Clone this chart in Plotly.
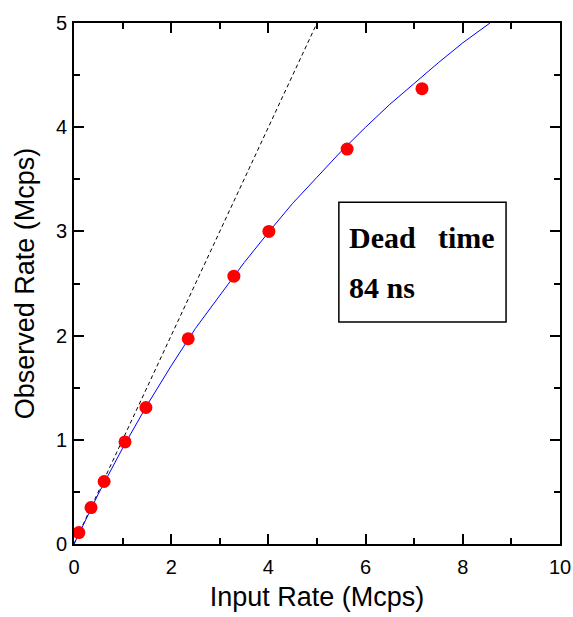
import plotly.graph_objects as go

# Measured data (Mcps)
input_rate = [0.10, 0.35, 0.62, 1.05, 1.48, 2.35, 3.29, 4.01, 5.62, 7.16]
observed_rate = [0.11, 0.35, 0.60, 0.98, 1.31, 1.97, 2.57, 3.00, 3.79, 4.37]

# Fitted dead-time curve
fit_x = [-0.1, 0, 0.5, 1, 1.5, 2, 2.5, 3, 3.5, 4, 4.5, 5, 5.5, 6, 6.5, 7, 7.5, 8, 8.56]
fit_y = [-0.1, 0, 0.48, 0.92, 1.33, 1.71, 2.07, 2.39, 2.70, 2.99, 3.27, 3.52, 3.77, 4.00, 4.22, 4.42, 4.62, 4.81, 5.0]

# Ideal (no dead time) line
ideal_x = [0, 5]
ideal_y = [0, 5]

x_ticks = [0, 2, 4, 6, 8, 10]
y_ticks = [0, 1, 2, 3, 4, 5]

SANS = "Liberation Sans, Arial, sans-serif"
SERIF = "Liberation Serif, Times New Roman, serif"

fig = go.Figure()
fig.add_trace(go.Scatter(x=ideal_x, y=ideal_y, mode="lines",
                         line=dict(color="black", width=1, dash="4px,3px"),
                         showlegend=False, hoverinfo="skip"))
fig.add_trace(go.Scatter(x=fit_x, y=fit_y, mode="lines",
                         line=dict(color="#0000FF", width=1),
                         showlegend=False))
fig.add_trace(go.Scatter(x=input_rate, y=observed_rate, mode="markers",
                         marker=dict(color="#FF0000", size=13, line=dict(width=0)),
                         cliponaxis=False, showlegend=False))

axis_common = dict(
    showline=True, linecolor="black", linewidth=2, mirror="ticks",
    ticks="inside", ticklen=10, tickwidth=2, tickcolor="black",
    showgrid=False, zeroline=False, automargin=False,
    tickfont=dict(family=SANS, size=20, color="black"),
    title_font=dict(family=SANS, size=27, color="black"),
)

fig.update_xaxes(range=[0, 10], tickvals=x_ticks, ticklabelstandoff=4,
                 minor=dict(dtick=1, tick0=0, ticks="inside", ticklen=6, tickwidth=2, tickcolor="black"),
                 title_text="Input Rate (Mcps)", title_standoff=10, **axis_common)
fig.update_yaxes(range=[0, 5], tickvals=y_ticks, ticklabelstandoff=1,
                 minor=dict(dtick=0.5, tick0=0, ticks="inside", ticklen=6, tickwidth=2, tickcolor="black"),
                 title_text="Observed Rate (Mcps)", title_standoff=13, **axis_common)

# Text box
fig.add_shape(type="rect", xref="x", yref="y", x0=5.45, x1=8.89, y0=2.13, y1=3.28,
              line=dict(color="black", width=1.5), fillcolor="white", layer="below")
font_box = dict(family=SERIF, size=30, color="black")
fig.add_annotation(x=5.64, y=2.94, xref="x", yref="y", text="<b>Dead</b>",
                   showarrow=False, xanchor="left", yanchor="middle", font=font_box, borderpad=0)
fig.add_annotation(x=8.68, y=2.94, xref="x", yref="y", text="<b>time</b>",
                   showarrow=False, xanchor="right", yanchor="middle", font=font_box, borderpad=0)
fig.add_annotation(x=5.64, y=2.46, xref="x", yref="y", text="<b>84 ns</b>",
                   showarrow=False, xanchor="left", yanchor="middle", font=font_box, borderpad=0)

fig.update_layout(
    width=573, height=617,
    margin=dict(l=74, r=13, t=23, b=73),
    paper_bgcolor="white", plot_bgcolor="white",
)

fig.write_html("out.html", config={"displayModeBar": False},
               post_script="document.body.style.margin='0';document.body.style.padding='0';")
